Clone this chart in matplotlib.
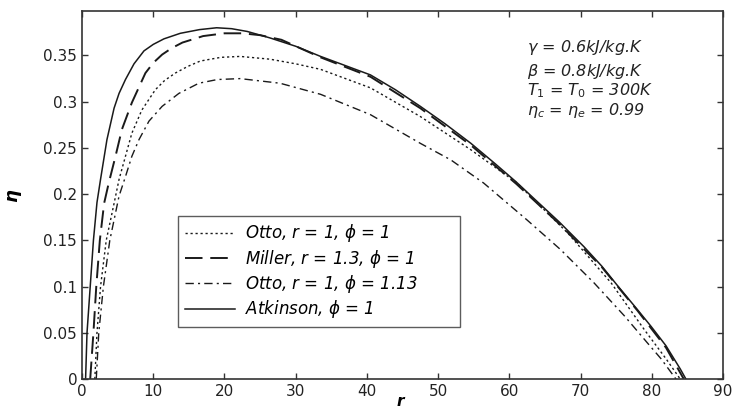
import numpy as np
import matplotlib
matplotlib.use("Agg")
import matplotlib.pyplot as plt
from matplotlib.ticker import FormatStrFormatter

# eta vs r for the four cycles
otto_x = [1.8, 2.1, 2.6, 3.4, 4.5, 5.2, 6.1, 7.0, 8.4, 10.3, 11.6, 13.1, 14.8, 16.6, 19.5,
          22.2, 26.4, 30, 33.5, 40.5, 47.5, 54.6, 61.1, 68.2, 74.3, 79, 82, 84]
otto_y = [0, 0.05, 0.1, 0.15, 0.19, 0.216, 0.241, 0.266, 0.291, 0.313, 0.323, 0.331, 0.338,
          0.344, 0.348, 0.349, 0.346, 0.341, 0.335, 0.315, 0.284, 0.248, 0.212, 0.158, 0.104,
          0.053, 0.022, 0]

miller_x = [1.15, 1.6, 2.0, 2.5, 3.1, 3.75, 4.7, 5.6, 7.0, 8.9, 10.0, 11.25, 12.6, 14.1, 17,
            20, 22.5, 25, 28, 33.5, 40.5, 47.5, 54.6, 61, 67, 73, 78, 82, 84.5]
miller_y = [0, 0.05, 0.1, 0.15, 0.19, 0.212, 0.241, 0.27, 0.299, 0.331, 0.342, 0.351, 0.358,
            0.364, 0.371, 0.374, 0.374, 0.372, 0.367, 0.348, 0.327, 0.293, 0.253, 0.211, 0.168,
            0.121, 0.074, 0.034, 0]

otto113_x = [2.0, 2.35, 3.0, 3.9, 5.2, 6.1, 7.0, 8.0, 9.4, 11.25, 13.6, 16.4, 19, 22.2, 27.8,
             33.5, 40.5, 47.5, 51.8, 56.4, 62.5, 67.2, 71.9, 76.2, 79.4, 81.3, 83.4]
otto113_y = [0, 0.05, 0.1, 0.15, 0.198, 0.219, 0.241, 0.259, 0.279, 0.295, 0.309, 0.320, 0.324,
             0.325, 0.320, 0.308, 0.286, 0.255, 0.237, 0.212, 0.172, 0.140, 0.104, 0.068, 0.039,
             0.022, 0]

atk_x = [0.5, 0.7, 1.15, 1.6, 2.1, 2.6, 3.5, 4.5, 5.2, 6.1, 7.3, 8.7, 10.0, 11.5, 13.8, 16.5,
         18.9, 21, 23.2, 26.4, 30, 33.5, 37, 40.5, 44, 47.5, 51, 54.6, 58, 61, 63.5, 67, 70.5,
         73, 75.2, 78, 79.9, 82, 84, 84.8]
atk_y = [0, 0.05, 0.1, 0.15, 0.191, 0.216, 0.259, 0.293, 0.309, 0.324, 0.341, 0.355, 0.362,
         0.368, 0.374, 0.378, 0.380, 0.379, 0.376, 0.369, 0.360, 0.349, 0.339, 0.329, 0.313,
         0.295, 0.276, 0.255, 0.233, 0.213, 0.195, 0.170, 0.143, 0.122, 0.101, 0.075, 0.057,
         0.036, 0.011, 0]

labels = [r"Otto, r = 1, $\phi$ = 1", r"Miller, r = 1.3, $\phi$ = 1",
          r"Otto, r = 1, $\phi$ = 1.13", r"Atkinson, $\phi$ = 1"]
params = [r"$\gamma$ = 0.6kJ/kg.K", r"$\beta$ = 0.8kJ/kg.K",
          r"$T_1$ = $T_0$ = 300K", r"$\eta_c$ = $\eta_e$ = 0.99"]
xticks = [0, 10, 20, 30, 40, 50, 60, 70, 80, 90]
yticks = [0, 0.05, 0.1, 0.15, 0.2, 0.25, 0.3, 0.35]

fig = plt.figure(figsize=(7.35, 4.12), dpi=100)
ax = fig.add_axes([0.1116, 0.080, 0.872, 0.893])

ink = "#1a1a1a"
ax.plot(otto_x, otto_y, color=ink, lw=1.0, ls=(0, (1.6, 2.0)), label=labels[0])
ax.plot(miller_x, miller_y, color=ink, lw=1.4, ls=(0, (9, 4)), label=labels[1])
ax.plot(otto113_x, otto113_y, color=ink, lw=1.0, ls=(0, (6, 3, 1.5, 3)), label=labels[2])
ax.plot(atk_x, atk_y, color=ink, lw=1.1, ls="-", label=labels[3])

ax.set_xlim(0, 90)
ax.set_ylim(0, 0.398)
ax.set_xticks(xticks)
ax.set_yticks(yticks)
ax.yaxis.set_major_formatter(FormatStrFormatter("%g"))
ax.tick_params(direction="in", top=True, right=True, length=4, width=1,
               labelsize=11, colors="#333333", labelcolor="#222222")
for s in ax.spines.values():
    s.set_linewidth(1.2)
    s.set_color("#333333")

ax.set_ylabel("η", fontsize=13, fontweight="bold", style="italic")
ax.yaxis.set_label_coords(-0.095, 0.5)
ax.set_xlabel("r", fontsize=11, fontweight="bold", style="italic")
ax.xaxis.set_label_coords(0.496, -0.04)

leg = ax.legend(loc="lower left", bbox_to_anchor=(0.15, 0.141, 0.44, 0.294), mode="expand",
                prop={"size": 12, "style": "italic"}, frameon=True, fancybox=False,
                borderaxespad=0, handlelength=3.0, handletextpad=0.6, labelspacing=0.2,
                borderpad=0.4)
leg.get_frame().set_edgecolor("#333333")
leg.get_frame().set_linewidth(1.0)

ys = [0.902, 0.836, 0.785, 0.731]
for t, y in zip(params, ys):
    ax.text(0.694, y, t, transform=ax.transAxes, fontsize=11.5, style="italic",
            va="center", ha="left", color="#222222")

fig.savefig("out.png", dpi=100)
